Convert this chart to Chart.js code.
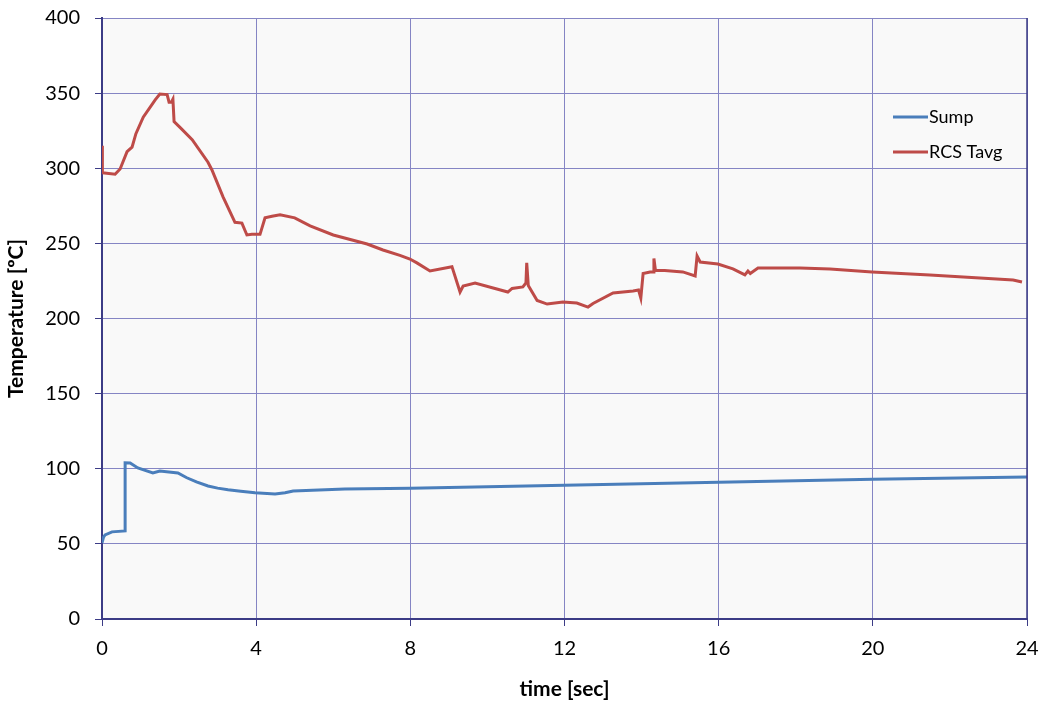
<!DOCTYPE html>
<html>
<head>
<meta charset="utf-8">
<script src="https://cdn.jsdelivr.net/npm/chart.js@4/dist/chart.umd.min.js"></script>
<style>
  html, body { margin: 0; padding: 0; background: #fff; }
  #wrap { width: 1045px; height: 708px; }
</style>
</head>
<body>
<div id="wrap"><canvas id="tempChart"></canvas></div>
<script>
// ===== data =====
const sumpTime = [0, 0.04, 0.08, 0.26, 0.6, 0.6, 0.73, 0.93, 1.32, 1.5, 1.97, 2.2, 2.45, 2.75, 3.0, 3.27, 3.6, 3.97, 4.49, 4.75, 4.96, 6.3, 8, 12, 16, 20, 24];
const sumpTemp = [50.6, 54.5, 56, 58, 58.6, 104, 103.8, 100.5, 97.2, 98.5, 97.2, 94, 91.2, 88.5, 87.1, 86, 85, 84, 83.2, 84, 85.2, 86.5, 87, 89, 91, 93, 94.5];

const rcsTime = [0, 0.01, 0.34, 0.47, 0.65, 0.78, 0.88, 1.07, 1.38, 1.5, 1.69, 1.74, 1.8, 1.84, 1.87, 2.03, 2.34, 2.75, 2.85, 3.14,
  3.45, 3.63, 3.76, 3.89, 4.1, 4.23, 4.41, 4.62, 5.0, 5.4, 6.0, 6.88, 7.29, 7.73, 7.99, 8.17, 8.51, 9.08, 9.29, 9.37,
  9.68, 10.53, 10.64, 10.92, 11.0, 11.02, 11.06, 11.29, 11.55, 11.96, 12.32, 12.61, 12.74, 13.26, 13.78, 13.92, 13.98, 14.04, 14.22, 14.3,
  14.32, 14.36, 14.6, 15.07, 15.39, 15.44, 15.52, 15.98, 16.37, 16.68, 16.76, 16.82, 17.02, 17.59, 18.11, 18.89, 19.98, 21.48, 22.78, 23.64, 23.87];
const rcsTemp = [315, 297, 296, 299.5, 311, 314, 323, 334, 345.5, 349.4, 349, 344, 344, 346, 331, 327, 319, 304, 299, 281,
  264, 263.5, 255.6, 256, 256, 267, 268, 269, 267, 261.6, 255.6, 249.6, 245.6, 242, 239.6, 237, 231.6, 234.5, 217.6, 221.6,
  223.6, 217.6, 220, 221, 223.6, 237, 222, 212, 209.6, 211, 210.3, 207.6, 210, 217, 218.3, 219, 213.6, 230, 231, 231,
  240, 232, 232, 231, 228.3, 241.6, 237.6, 236.3, 233, 229, 231.6, 230, 233.6, 233.6, 233.6, 233, 231, 229, 227, 225.6, 224.3];

const seriesNames = ['Sump', 'RCS Tavg'];
const xTitle = 'time [sec]';
const yTitle = 'Temperature [ºC]';

const FONT = 'Lato, "Liberation Sans", sans-serif';
const GRID = '#8585c4';
const AXIS = '#3c3c86';

const toPoints = (xs, ys) => xs.map((x, i) => ({ x: x, y: ys[i] }));

// ===== plot background + right frame =====
const areaBg = {
  id: 'areaBg',
  beforeDraw(chart) {
    const { ctx, chartArea: a } = chart;
    ctx.save();
    ctx.fillStyle = '#f9f9f9';
    ctx.fillRect(a.left, a.top, a.right - a.left, a.bottom - a.top);
    ctx.restore();
  },
  afterDraw(chart) {
    const { ctx, chartArea: a } = chart;
    ctx.save();
    ctx.strokeStyle = AXIS;
    ctx.lineWidth = 1.5;
    ctx.beginPath();
    ctx.moveTo(a.right, a.top);
    ctx.lineTo(a.right, a.bottom);
    ctx.stroke();
    ctx.restore();
  }
};

// ===== legend inside the plot (top right) =====
const innerLegend = {
  id: 'innerLegend',
  afterDraw(chart) {
    const { ctx, chartArea: a } = chart;
    ctx.save();
    ctx.font = '18px ' + FONT;
    ctx.textBaseline = 'middle';
    chart.data.datasets.forEach((ds, i) => {
      const y = a.top + 99 + i * 35;
      const x0 = a.right - 134;
      ctx.strokeStyle = ds.borderColor;
      ctx.lineWidth = 3;
      ctx.beginPath();
      ctx.moveTo(x0, y);
      ctx.lineTo(x0 + 35, y);
      ctx.stroke();
      ctx.fillStyle = '#000';
      ctx.fillText(ds.label, x0 + 36, y);
    });
    ctx.restore();
  }
};

const tempChart = new Chart(document.getElementById('tempChart'), {
  type: 'line',
  data: {
    datasets: [
      { label: seriesNames[0], data: toPoints(sumpTime, sumpTemp), borderColor: '#4a7ebb', borderWidth: 3, pointRadius: 0, tension: 0 },
      { label: seriesNames[1], data: toPoints(rcsTime, rcsTemp), borderColor: '#be4b48', borderWidth: 3, pointRadius: 0, tension: 0 }
    ]
  },
  options: {
    responsive: true,
    maintainAspectRatio: false,
    animation: false,
    layout: { padding: { top: 18, right: 18, left: 0, bottom: 0 } },
    plugins: { legend: { display: false }, tooltip: { enabled: false } },
    scales: {
      x: {
        type: 'linear', min: 0, max: 24,
        ticks: { stepSize: 4, color: '#000', font: { size: 20, family: FONT }, padding: 11 },
        grid: { color: GRID, lineWidth: 1, tickLength: 7, tickColor: AXIS },
        border: { color: AXIS, width: 2 },
        title: { display: true, text: xTitle, color: '#000', font: { size: 21, weight: 'bold', family: FONT }, padding: { top: 4, bottom: 6 } },
        // fixed height, keep overhanging labels from pushing the plot in
        afterFit(s) { s.height = 89; s.paddingLeft = 0; s.paddingRight = 10; }
      },
      y: {
        min: 0, max: 400,
        ticks: { stepSize: 50, color: '#000', font: { size: 20, family: FONT }, padding: 15 },
        grid: { color: GRID, lineWidth: 1, tickLength: 7, tickColor: AXIS },
        border: { color: AXIS, width: 2 },
        title: { display: true, text: yTitle, color: '#000', font: { size: 21, weight: 'bold', family: FONT }, padding: { top: 4, bottom: 4 } },
        afterFit(s) { s.width = 102; s.paddingTop = 10; s.paddingBottom = 10; }
      }
    }
  },
  plugins: [areaBg, innerLegend]
});
</script>
</body>
</html>
